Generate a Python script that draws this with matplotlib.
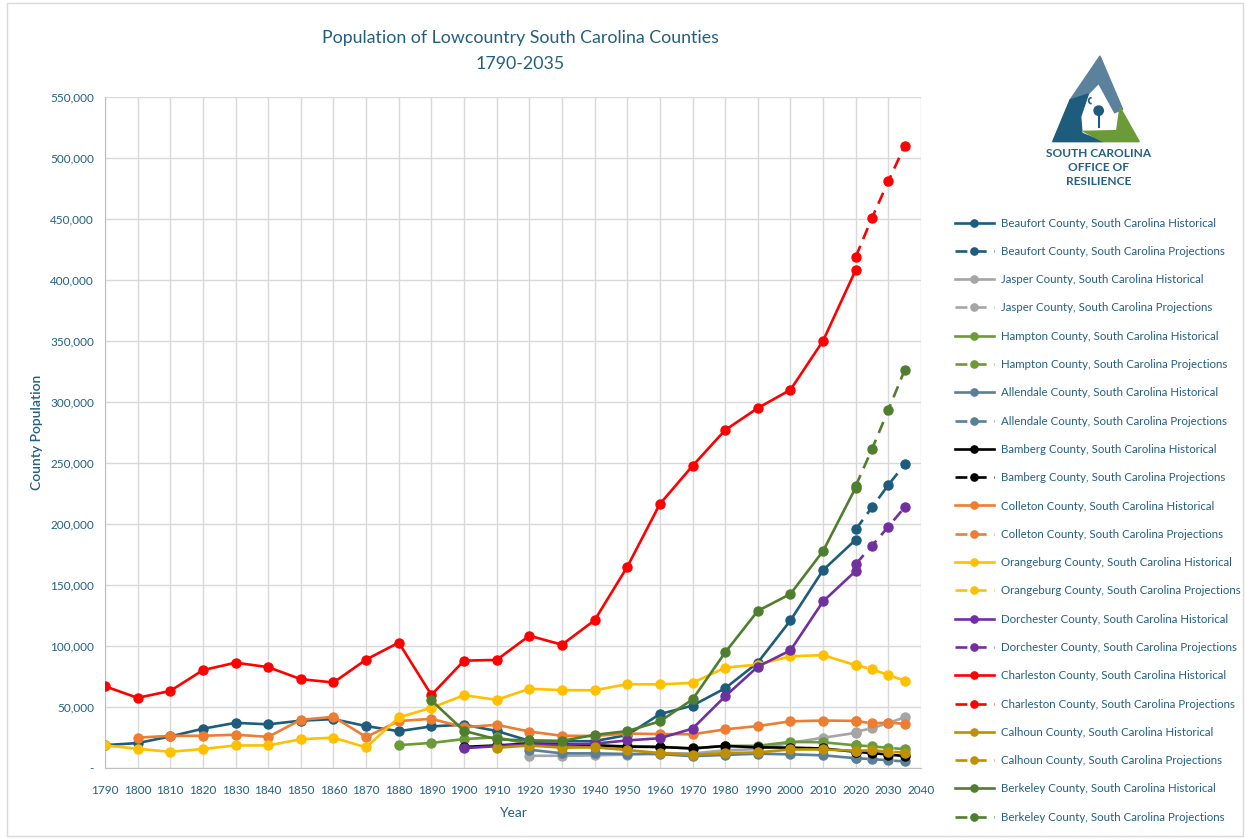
import numpy as np
import matplotlib
matplotlib.use('Agg')
import matplotlib.pyplot as plt
from matplotlib.patches import Polygon, Rectangle, Circle, Arc
from matplotlib.ticker import FuncFormatter

plt.rcParams['font.family'] = ['Lato', 'DejaVu Sans']

# Census years and projection years
jaren_hist = np.arange(1790, 2030, 10)
jaren_proj = [2020, 2025, 2030, 2035]

# Historical population per county (starts at the county's first census)
beaufort_h = [18753, 20428, 25887, 32199, 37032, 35794, 38805, 40053, 34359, 30176, 34119, 35495,
              30355, 22269, 21815, 22037, 26993, 44187, 51136, 65364, 86425, 120937, 162233, 187117]
jasper_h = [10000, 10011, 10354, 10995, 12237, 11885, 14504, 15487, 20678, 24777, 28791]
hampton_h = [18741, 20544, 23738, 25126, 19550, 17243, 17787, 18027, 17425, 15878, 18159, 18191,
             21386, 21090, 18561]
allendale_h = [15000, 12000, 12000, 11500, 11400, 9700, 10700, 11700, 11200, 10400, 8000]
bamberg_h = [17300, 18500, 20000, 19500, 18700, 17500, 17200, 16100, 18100, 16900, 16700, 16000, 13300]
colleton_h = [24903, 26359, 26404, 27256, 25548, 39505, 41916, 25410, 38500, 40293, 33452, 35390,
              29897, 26394, 26268, 28242, 27816, 27622, 31676, 34377, 38264, 38892, 38604]
orangeburg_h = [18513, 15766, 13229, 15653, 18453, 18519, 23582, 24896, 16865, 41395, 49393, 59663,
                55893, 64907, 63864, 63707, 68726, 68559, 69789, 82276, 84803, 91582, 92501, 84223]
dorchester_h = [16294, 17891, 19459, 18956, 19928, 22601, 24383, 32276, 58761, 83060, 96413,
                136555, 161540]
charleston_h = [66985, 57480, 63179, 80212, 86338, 82661, 72805, 70100, 88863, 102800, 59903, 88006,
                88594, 108450, 101050, 121105, 164856, 216382, 247650, 276974, 295039, 309969,
                350209, 408235]
calhoun_h = [16634, 18384, 16707, 16925, 14753, 12256, 10780, 12206, 12753, 15185, 15175, 14119]
berkeley_h = [55428, 30454, 23487, 22558, 22236, 27128, 30251, 38196, 56199, 94727, 128776, 142651,
              177843, 229861]

# Projections 2020-2035
beaufort_p = [195600, 213700, 232000, 248900]
jasper_p = [29800, 32500, 37000, 41500]
hampton_p = [18500, 17800, 16500, 15500]
allendale_p = [8000, 7300, 6300, 5400]
bamberg_p = [13300, 12200, 11000, 9800]
colleton_p = [38600, 36600, 37200, 36200]
orangeburg_p = [84400, 80900, 76200, 71600]
dorchester_p = [167200, 182200, 197800, 213700]
charleston_p = [419000, 451000, 481000, 510000]
calhoun_p = [14100, 14500, 13400, 12700]
berkeley_p = [231200, 261500, 293500, 326200]

counties = ['Beaufort', 'Jasper', 'Hampton', 'Allendale', 'Bamberg', 'Colleton',
            'Orangeburg', 'Dorchester', 'Charleston', 'Calhoun', 'Berkeley']
historisch = [beaufort_h, jasper_h, hampton_h, allendale_h, bamberg_h, colleton_h,
              orangeburg_h, dorchester_h, charleston_h, calhoun_h, berkeley_h]
projecties = [beaufort_p, jasper_p, hampton_p, allendale_p, bamberg_p, colleton_p,
              orangeburg_p, dorchester_p, charleston_p, calhoun_p, berkeley_p]
kleuren = ['#1d5c7c', '#a5a5a5', '#6a9b38', '#5a7f99', '#000000', '#ed7d31',
           '#ffc000', '#7030a0', '#ff0000', '#bf9000', '#4f7f2e']

tekst_kleur = '#245f82'

fig = plt.figure(figsize=(12.46, 8.38), dpi=100)
ax = fig.add_axes([105 / 1246, 1 - 768 / 838, 816 / 1246, 671 / 838])

z = 3
for naam, hist, proj, kleur in zip(counties, historisch, projecties, kleuren):
    jaren = jaren_hist[len(jaren_hist) - len(hist):]
    ax.plot(jaren, hist, color=kleur, lw=1.9, marker='o', ms=6.5, zorder=z,
            label=f'{naam} County, South Carolina Historical')
    ax.plot(jaren_proj, proj, color=kleur, lw=1.9, marker='o', ms=6.5, zorder=z + 1,
            dashes=(4.5, 2.8), label=f'{naam} County, South Carolina Projections')
    z += 2

ax.set_xlim(1790, 2040)
ax.set_ylim(0, 550000)
ax.set_xticks(np.arange(1790, 2041, 10))
ax.set_yticks(np.arange(0, 550001, 50000))
ax.yaxis.set_major_formatter(FuncFormatter(lambda v, p: '-' if v == 0 else f'{int(v):,}'))
ax.grid(True, color='#d9d9d9', lw=1)
ax.set_axisbelow(True)
for kant in ['top', 'right']:
    ax.spines[kant].set_visible(False)
for kant in ['left', 'bottom']:
    ax.spines[kant].set_color('#bfbfbf')
ax.tick_params(length=0, labelsize=8.5, labelcolor=tekst_kleur)
ax.tick_params(axis='x', pad=12)
ax.tick_params(axis='y', pad=8)

ax.set_xlabel('Year', fontsize=10, color=tekst_kleur, labelpad=8)
ax.set_ylabel('County Population', fontsize=10, color=tekst_kleur, fontweight='semibold', labelpad=5)
ax.set_title('Population of Lowcountry South Carolina Counties\n1790-2035', fontsize=12.8,
             color=tekst_kleur, pad=20, linespacing=1.75, x=0.509)

leg = fig.legend(loc='upper left', bbox_to_anchor=(950 / 1246, 1 - 213 / 838), frameon=False,
                 fontsize=8.3, handlelength=3.4, labelspacing=1.5, handletextpad=0.6,
                 borderaxespad=0, markerscale=0.8)
for t in leg.get_texts():
    t.set_color(tekst_kleur)

# Logo: triangle in three pieces with palmetto tree
lax = fig.add_axes([1020 / 1246, 1 - 200 / 838, 150 / 1246, 150 / 838])
lax.set_xlim(0, 450)
lax.set_ylim(450, 0)
lax.axis('off')
lax.add_patch(Polygon([(240, 18), (308, 178), (284, 188), (236, 100), (205, 132), (150, 150)],
                      closed=True, color='#5b819d'))
lax.add_patch(Polygon([(150, 150), (205, 132), (182, 200), (186, 250), (250, 275), (98, 275)],
                      closed=True, color='#1d5c7c'))
lax.add_patch(Polygon([(300, 172), (358, 275), (250, 275), (190, 244), (290, 242)],
                      closed=True, color='#6a9b38'))
lax.plot([236, 236], [232, 190], color='#1d5c7c', lw=1.5)
lax.add_patch(Circle((236, 182), 14, color='#1d5c7c'))
lax.add_patch(Arc((215, 152), 18, 18, theta1=90, theta2=270, color='#1d5c7c', lw=1.2))
for tekst, y in [('SOUTH CAROLINA', 310), ('OFFICE OF', 352), ('RESILIENCE', 394)]:
    lax.text(235, y, tekst, ha='center', va='center', fontsize=8.6, fontweight='bold',
             color='#245f82')

# Chart area border
fig.patches.append(Rectangle((7 / 1246, 2 / 838), 1236 / 1246, 833 / 838, transform=fig.transFigure,
                             fill=False, edgecolor='#d9d9d9', lw=1))

fig.savefig('out.png', dpi=100)
